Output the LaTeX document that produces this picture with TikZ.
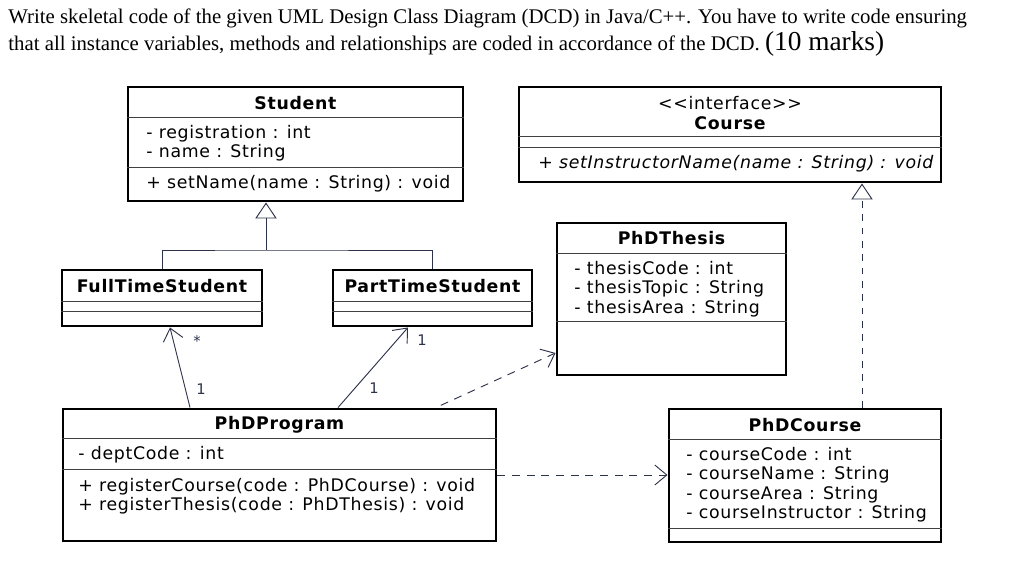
\documentclass[tikz,border=0pt]{standalone}
\usepackage{fontspec}
\setmainfont{Liberation Serif}
\newfontfamily\umlfont{DejaVu Sans}[LetterSpace=4.0]
\usetikzlibrary{arrows.meta,fit}
\definecolor{linkgray}{RGB}{45,50,75}

\begin{document}
\begin{tikzpicture}[x=0.75pt,y=-0.75pt,line width=0.6pt,
		classbox/.style={draw,line width=2.2pt,inner sep=0pt},
		sepline/.style={line width=0.7pt,draw=black!75},
		umltext/.style={inner sep=0pt,font=\umlfont\fontsize{13}{14.6}\selectfont},
		umltitle/.style={inner sep=0pt,font=\umlfont\bfseries\fontsize{13}{14.6}\selectfont},
		members/.style={umltext,anchor=west,align=left},
		mult/.style={inner sep=0pt,text=linkgray,font=\umlfont\fontsize{11}{13}\selectfont},
		genline/.style={draw=linkgray,line width=0.7pt},
		inherit/.style={genline,-{Triangle[open,length=12pt,width=16pt]}},
		realize/.style={inherit,dash pattern=on 5pt off 5pt},
		assoc/.style={genline,-{Straight Barb[length=9pt,width=15pt]}},
		depend/.style={assoc,dash pattern=on 6pt off 5pt}]
	\useasboundingbox (0,0) rectangle (1015,561);
	\node[anchor=west,inner sep=0pt,font=\fontsize{15.6}{18}\selectfont] (taska) at (8,18) {Write skeletal code of the given UML Design Class Diagram (DCD) in Java/C++. You have to write code ensuring};
	\node[anchor=west,inner sep=0pt,font=\fontsize{15.6}{18}\selectfont] (taskb) at (8,44) {that all instance variables, methods and relationships are coded in accordance of the DCD. {\fontsize{20.5}{22}\selectfont(10 marks)}};

	\node[classbox,fit={(128,87) (463,201)}] (student) {};
	\node[umltitle] (studentname) at (295.5,103) {Student};
	\node[members] (studentattr) at (146,143) {- registration : int\\- name : String};
	\node[members] (studentops) at (146,184) {+ setName(name : String) : void};
	\draw[sepline] (student.west |- 0,117) -- (student.east |- 0,117);
	\draw[sepline] (student.west |- 0,167) -- (student.east |- 0,167);

	\node[classbox,fit={(519,87) (941,182)}] (course) {};
	\node[umltext] (coursestereo) at (730,103) {{<}{<}interface{>}{>}};
	\node[umltitle] (coursename) at (730,123) {Course};
	\node[members,font=\umlfont\itshape\fontsize{13}{14.6}\selectfont] (courseops) at (538,164) {+ setInstructorName(name : String) : void};
	\draw[sepline] (course.west |- 0,136) -- (course.east |- 0,136);
	\draw[sepline] (course.west |- 0,147) -- (course.east |- 0,147);

	\node[classbox,fit={(557,223) (786,375)}] (phdthesis) {};
	\node[umltitle] (thesisname) at (671.5,238) {PhDThesis};
	\node[members] (thesisattr) at (574,289) {- thesisCode : int\\- thesisTopic : String\\- thesisArea : String};
	\draw[sepline] (phdthesis.west |- 0,253) -- (phdthesis.east |- 0,253);
	\draw[sepline] (phdthesis.west |- 0,321) -- (phdthesis.east |- 0,321);

	\node[classbox,fit={(62,270) (262,326)}] (ftstudent) {};
	\node[umltitle] (ftname) at (162,286) {FullTimeStudent};
	\draw[sepline] (ftstudent.west |- 0,301) -- (ftstudent.east |- 0,301);
	\draw[sepline] (ftstudent.west |- 0,311) -- (ftstudent.east |- 0,311);

	\node[classbox,fit={(333,270) (532,326)}] (ptstudent) {};
	\node[umltitle] (ptname) at (432.5,286) {PartTimeStudent};
	\draw[sepline] (ptstudent.west |- 0,301) -- (ptstudent.east |- 0,301);
	\draw[sepline] (ptstudent.west |- 0,311) -- (ptstudent.east |- 0,311);

	\node[classbox,fit={(63,409) (496,541)}] (phdprogram) {};
	\node[umltitle] (programname) at (279.5,425) {PhDProgram};
	\node[members] (programattr) at (78,455) {- deptCode : int};
	\node[members] (programops) at (78,496) {+ registerCourse(code : PhDCourse) : void\\+ registerThesis(code : PhDThesis) : void};
	\draw[sepline] (phdprogram.west |- 0,438) -- (phdprogram.east |- 0,438);
	\draw[sepline] (phdprogram.west |- 0,469) -- (phdprogram.east |- 0,469);

	\node[classbox,fit={(669,409) (941,542)}] (phdcourse) {};
	\node[umltitle] (phdcoursename) at (805,425) {PhDCourse};
	\node[members] (phdcourseattr) at (686,484.5) {- courseCode : int\\- courseName : String\\- courseArea : String\\- courseInstructor : String};
	\draw[sepline] (phdcourse.west |- 0,439) -- (phdcourse.east |- 0,439);
	\draw[sepline] (phdcourse.west |- 0,528) -- (phdcourse.east |- 0,528);

	\coordinate (fork) at (266,250);
	\draw[genline] (ftstudent.north) |- (fork) -| (ptstudent.north);
	\draw[inherit] (fork) -- (fork |- student.south);
	\draw[realize] (phdcourse.north -| 862,0) -- (course.south -| 862,0);
	\draw[assoc] (phdprogram.north -| 190,0) -- (ftstudent.south -| 170,0);
	\draw[assoc] (phdprogram.north -| 338,0) -- (ptstudent.south -| 408,0);
	\draw[depend,shorten <=4pt] (phdprogram.north -| 436,0) -- (phdthesis.west |- 0,353);
	\draw[depend] (phdprogram.east |- 0,475) -- (phdcourse.west |- 0,475);

	\node[mult] (ftmany) at (197,341) {*};
	\node[mult] (ftone) at (201,389) {1};
	\node[mult] (ptone) at (422,340) {1};
	\node[mult] (programone) at (374,388) {1};
\end{tikzpicture}
\end{document}
